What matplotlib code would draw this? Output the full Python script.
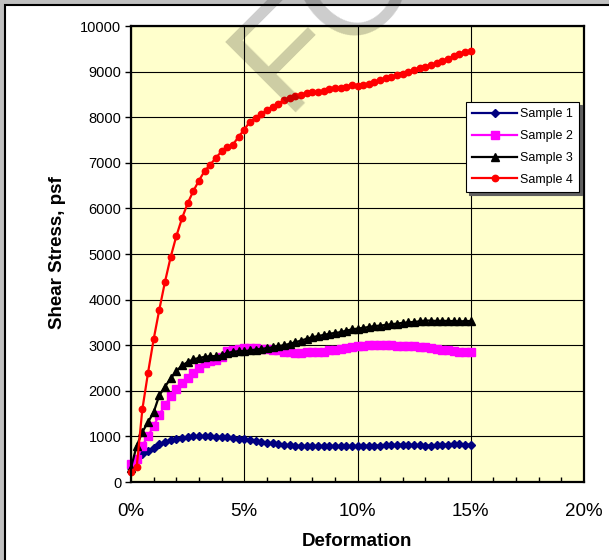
import matplotlib
matplotlib.use("Agg")
import matplotlib.pyplot as plt
from matplotlib.patches import Rectangle
from matplotlib.ticker import MultipleLocator

plt.rcParams['font.family'] = ['Liberation Sans', 'DejaVu Sans']

# ---------------- data ----------------
deformation_pct = [0, 0.25, 0.5, 0.75, 1.0, 1.25, 1.5, 1.75, 2.0, 2.25, 2.5, 2.75,
                   3.0, 3.25, 3.5, 3.75, 4.0, 4.25, 4.5, 4.75, 5.0, 5.25, 5.5, 5.75,
                   6.0, 6.25, 6.5, 6.75, 7.0, 7.25, 7.5, 7.75, 8.0, 8.25, 8.5, 8.75,
                   9.0, 9.25, 9.5, 9.75, 10.0, 10.25, 10.5, 10.75, 11.0, 11.25, 11.5, 11.75,
                   12.0, 12.25, 12.5, 12.75, 13.0, 13.25, 13.5, 13.75, 14.0, 14.25, 14.5, 14.75,
                   15.0]

sample1 = [315, 510, 605, 680, 750, 825, 875, 920, 950, 970, 990, 1005,
           1005, 1005, 1005, 990, 990, 985, 970, 950, 935, 920, 900, 875,
           860, 845, 825, 810, 810, 795, 790, 790, 790, 790, 790, 790,
           790, 790, 790, 790, 790, 790, 800, 800, 800, 805, 810, 815,
           820, 815, 810, 805, 800, 800, 810, 820, 820, 825, 825, 820,
           820]

sample2 = [385, 495, 790, 1010, 1225, 1480, 1680, 1880, 2045, 2175, 2285, 2395,
           2505, 2600, 2650, 2685, 2745, 2870, 2905, 2925, 2940, 2940, 2940, 2920,
           2920, 2905, 2885, 2855, 2845, 2830, 2830, 2845, 2855, 2845, 2855, 2885,
           2905, 2925, 2940, 2955, 2980, 2990, 3015, 3010, 3005, 3000, 2995, 2990,
           2985, 2985, 2980, 2970, 2950, 2935, 2920, 2905, 2890, 2870, 2860, 2850,
           2850]

sample3 = [315, 790, 1095, 1310, 1530, 1900, 2090, 2270, 2430, 2555, 2630, 2690,
           2720, 2745, 2760, 2760, 2775, 2830, 2855, 2870, 2870, 2885, 2905, 2920,
           2935, 2955, 2980, 3000, 3030, 3065, 3100, 3140, 3175, 3200, 3225, 3250,
           3270, 3285, 3320, 3345, 3365, 3380, 3400, 3420, 3430, 3445, 3460, 3475,
           3490, 3500, 3510, 3525, 3540, 3540, 3530, 3535, 3530, 3530, 3520, 3530,
           3530]

sample4 = [230, 320, 1590, 2390, 3130, 3780, 4390, 4930, 5390, 5780, 6110, 6380,
           6610, 6820, 6960, 7110, 7250, 7340, 7400, 7570, 7730, 7900, 7990, 8060,
           8160, 8230, 8300, 8370, 8420, 8460, 8490, 8530, 8545, 8545, 8575, 8610,
           8635, 8650, 8670, 8700, 8690, 8700, 8730, 8780, 8810, 8850, 8885, 8925,
           8955, 8990, 9045, 9070, 9100, 9140, 9185, 9230, 9285, 9340, 9390, 9430,
           9460]

series_labels = ["Sample 1", "Sample 2", "Sample 3", "Sample 4"]
x_ticks = [0, 5, 10, 15, 20]
x_tick_labels = ["0%", "5%", "10%", "15%", "20%"]
y_ticks = [0, 1000, 2000, 3000, 4000, 5000, 6000, 7000, 8000, 9000, 10000]

# ---------------- figure ----------------
W, H = 609, 560
fig = plt.figure(figsize=(W / 100, H / 100), dpi=100, facecolor='#c0c0c0')

# white chart area with black frame
fig.patches.append(Rectangle((5 / W, -0.1), 1.2, 1.1 - 4.5 / H,
                             transform=fig.transFigure, facecolor='white',
                             edgecolor='black', linewidth=1.5, zorder=-10))

ax = fig.add_axes([131 / W, 1 - 482 / H, (584 - 131) / W, (482 - 26) / H])
ax.set_facecolor('#FFFFCC')

styles = [
    dict(color='#000080', marker='D', markersize=4.2),
    dict(color='#FF00FF', marker='s', markersize=5.2),
    dict(color='black', marker='^', markersize=5.8),
    dict(color='#FF0000', marker='o', markersize=4.6),
]
for ys, lab, st in zip([sample1, sample2, sample3, sample4], series_labels, styles):
    ax.plot(deformation_pct, ys, label=lab, linewidth=1.6, clip_on=False, **st)

ax.set_xlim(0, 20)
ax.set_ylim(0, 10000)
ax.set_xticks(x_ticks)
ax.set_xticklabels(x_tick_labels, fontsize=13.5)
ax.set_yticks(y_ticks)
ax.set_yticklabels([str(v) for v in y_ticks], fontsize=10.5)
ax.xaxis.set_minor_locator(MultipleLocator(1))

ax.grid(True, which='major', color='black', linewidth=0.8)
ax.set_axisbelow(True)
ax.tick_params(axis='x', which='major', length=0, pad=15)
ax.tick_params(axis='x', which='minor', direction='in', length=3.5, width=1)
ax.tick_params(axis='y', which='major', direction='out', length=4, width=1, pad=3)
for s in ax.spines.values():
    s.set_linewidth(1.6)
    s.set_color('black')

leg = ax.legend(loc='upper right', bbox_to_anchor=(0.989, 0.833), borderaxespad=0,
                fontsize=9, frameon=True, fancybox=False, edgecolor='black',
                framealpha=1, handlelength=3.6, handletextpad=0.2,
                labelspacing=0.78, borderpad=0.5,
                shadow={'color': '#606060', 'alpha': 1})
leg.get_frame().set_linewidth(0.8)

fig.text(357 / W, 1 - 541 / H, "Deformation", fontsize=13.5, fontweight='bold',
         ha='center', va='center')
fig.text(58 / W, 1 - 253 / H, "Shear Stress, psf", fontsize=13.5, fontweight='bold',
         ha='center', va='center', rotation=90)

# watermark fragment
fig.text(283 / W, 1 - 112 / H, "FO", fontsize=104, color='black', alpha=0.2,
         rotation=45, rotation_mode='anchor', ha='left', va='baseline', zorder=10)

fig.savefig("out.png", dpi=100, facecolor=fig.get_facecolor())
